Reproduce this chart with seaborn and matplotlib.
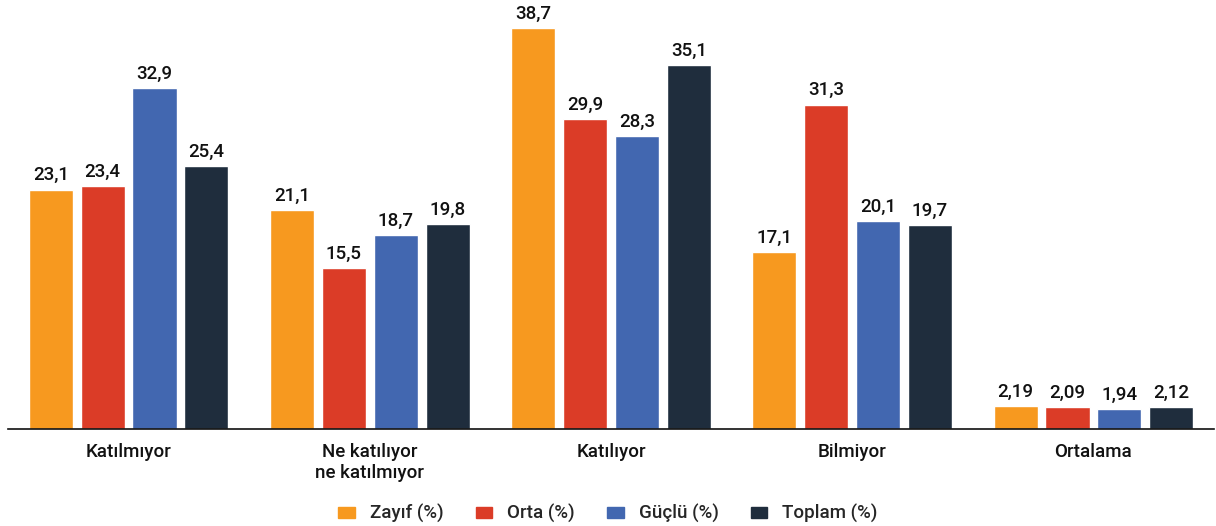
import matplotlib.pyplot as plt
import matplotlib.patches as mpatches
import numpy as np
import pandas as pd
import seaborn as sns

categories = ["Katılmıyor", "Ne katılıyor\nne katılmıyor", "Katılıyor", "Bilmiyor", "Ortalama"]
series = ["Zayıf (%)", "Orta (%)", "Güçlü (%)", "Toplam (%)"]
zayif = [23.1, 21.1, 38.7, 17.1, 2.19]
orta = [23.4, 15.5, 29.9, 31.3, 2.09]
guclu = [32.9, 18.7, 28.3, 20.1, 1.94]
toplam = [25.4, 19.8, 35.1, 19.7, 2.12]
colors = ["#F7991F", "#DB3C27", "#4267B0", "#1F2D3D"]

df = pd.DataFrame({
    "kategori": categories * 4,
    "seri": np.repeat(series, len(categories)),
    "deger": zayif + orta + guclu + toplam,
})

sns.set_style("white")
plt.rcParams["font.family"] = ["Roboto", "DejaVu Sans"]
plt.rcParams["font.weight"] = "medium"

fig = plt.figure(figsize=(12.16, 5.26), dpi=100)
ax = fig.add_axes([8 / 1216, 97 / 526, 1206 / 1216, 424 / 526])

sns.barplot(data=df, x="kategori", y="deger", hue="seri", palette=colors,
            saturation=1, width=0.86, gap=0.15, legend=False, ax=ax)

for cont in ax.containers:
    for bar in cont:
        v = bar.get_height()
        txt = f"{v:.2f}" if v < 5 else f"{v:.1f}"
        ax.text(bar.get_x() + bar.get_width() / 2, v + 0.5, txt.replace(".", ","),
                ha="center", va="bottom", fontsize=13.5, color="#111111")

ax.set_xlim(-0.5, 4.5)
ax.set_ylim(0, 40.9)
ax.set_xlabel("")
ax.set_ylabel("")
ax.set_yticks([])
for s in ["top", "right", "left"]:
    ax.spines[s].set_visible(False)
ax.spines["bottom"].set_color("#111111")
ax.spines["bottom"].set_linewidth(1.2)

ax.set_xticks(range(len(categories)))
ax.set_xticklabels(categories, fontsize=13.5, color="#111111", linespacing=1.25)
ax.tick_params(axis="x", which="major", length=0, pad=10)
ax.set_xticks(np.arange(-0.5, 5, 1), minor=True)
ax.tick_params(axis="x", which="minor", length=4, width=1.2, color="#111111", direction="out")

handles = [mpatches.Patch(color=c, label=s) for c, s in zip(colors, series)]
fig.legend(handles=handles, loc="lower center", bbox_to_anchor=(0.5, -0.027), ncol=4,
           frameon=False, fontsize=13.5, handlelength=0.9, handleheight=0.55,
           columnspacing=1.7, handletextpad=0.8)

fig.savefig("out.png", dpi=100)
